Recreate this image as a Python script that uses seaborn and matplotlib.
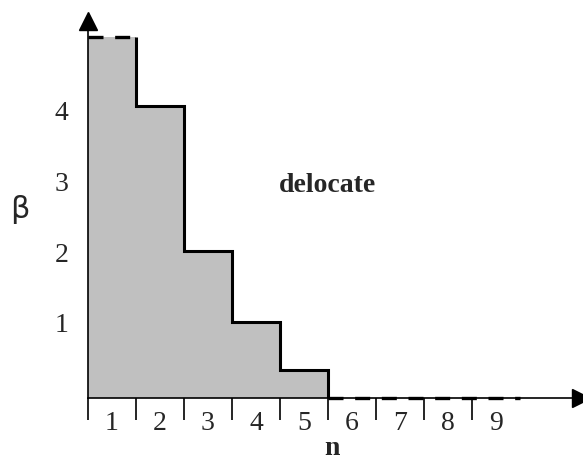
import numpy as np
import pandas as pd
import matplotlib.pyplot as plt
import matplotlib.transforms as mtransforms
import seaborn as sns

# step heights of beta for each n
n = np.arange(1, 10)
beta = np.array([5.12, 4.14, 2.09, 1.08, 0.40, 0.0, 0.0, 0.0, 0.0])
y_ticks = [1, 2, 3, 4]
region_label = 'delocate'

sns.set_theme(style='white')
plt.rcParams['font.family'] = ['Liberation Serif', 'DejaVu Sans']

fig = plt.figure(figsize=(5.83, 4.62), dpi=100)
ax = fig.add_axes([88 / 583, 64 / 462, 1 - 88 / 583, 398 / 462])

# gray area under the steps
df = pd.DataFrame({'mid': n - 0.5, 'beta': beta})
edges = np.arange(0, len(n) + 1)
sns.histplot(data=df, x='mid', weights='beta', bins=edges.tolist(),
             element='step', fill=True, color='#c0c0c0', alpha=1,
             linewidth=0, ax=ax)

# solid outline of the staircase
last = int(np.nonzero(beta)[0][-1]) + 1
xs = np.repeat(n[:last], 2)
ys = np.column_stack([beta[:last], np.r_[beta[1:last], 0]]).ravel()
ax.plot(xs, ys, color='black', lw=2.2, solid_joinstyle='miter',
        solid_capstyle='butt', zorder=3)

# dashed parts: top of the first step and the zero tail
ax.plot([0, n[0]], [beta[0], beta[0]], color='black', lw=2.4,
        dashes=(4.5, 3.5), zorder=3)
ax.plot([n[last - 1], n[-1]], [0, 0], color='black', lw=2.4,
        dashes=(4.5, 3.5), zorder=3, clip_on=False)

ax.set_xlim(0, 495 / 48)
ax.set_ylim(0, 398 / 70.5)

# axes with arrow heads
for side in ['top', 'right']:
    ax.spines[side].set_visible(False)
for side in ['left', 'bottom']:
    ax.spines[side].set_color('black')
    ax.spines[side].set_linewidth(1.2)
ax.spines['left'].set_bounds(0, 5.3)
ax.spines['bottom'].set_bounds(0, 10.2)
ax.plot(0, 5.35, marker='^', ms=12.5, color='black', clip_on=False)
ax.plot(10.27, 0, marker='>', ms=13, color='black', clip_on=False)

# ticks
ax.set_xticks(n - 0.5)
ax.set_xticklabels([str(v) for v in n])
ax.set_xticks(edges[:-1], minor=True)
ax.tick_params(axis='x', which='major', length=0, pad=9, labelsize=20)
ax.tick_params(axis='x', which='minor', bottom=True, length=16, width=1.2,
               color='black', direction='out')
ax.set_yticks(y_ticks)
ax.set_yticklabels([str(v) for v in y_ticks])
ax.tick_params(axis='y', length=0, pad=14, labelsize=20)
shift = mtransforms.ScaledTranslation(0, 5 / 100, fig.dpi_scale_trans)
for lab in ax.get_yticklabels():
    lab.set_transform(lab.get_transform() + shift)

ax.set_xlabel('')
ax.set_ylabel('')

ax.text(4.98, 2.92, region_label, fontsize=20, fontweight='bold',
        ha='center', va='baseline')
ax.text(5.08, -0.81, 'n', fontsize=20, fontweight='bold',
        ha='center', va='baseline', clip_on=False)
ax.text(-1.42, 2.55, 'β', fontsize=22, family='DejaVu Sans',
        ha='center', va='baseline', clip_on=False)

fig.savefig('out.png', dpi=100)
